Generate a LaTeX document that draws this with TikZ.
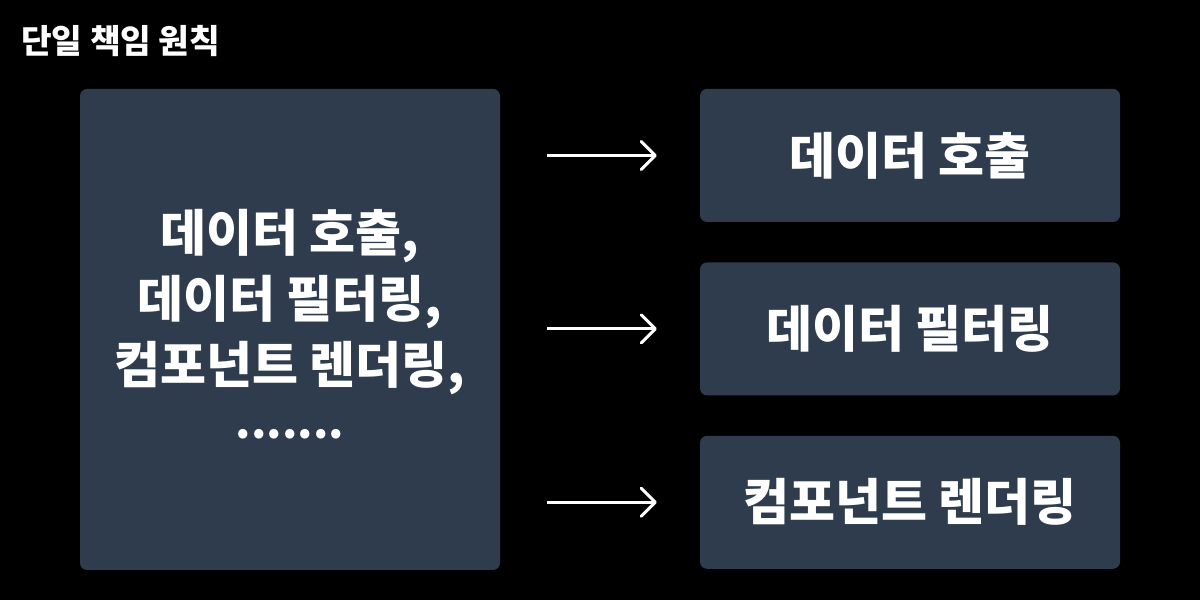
\documentclass[tikz,border=0pt]{standalone}
\usepackage{fontspec}
\setmainfont{Noto Sans CJK KR}
\usepackage{xcolor}
\usepackage{tikz}
\usetikzlibrary{arrows.meta,positioning}
\definecolor{panelgray}{RGB}{47,60,77}

\begin{document}
\begin{tikzpicture}[x=1pt,y=1pt,
		panel/.style={fill=panelgray,rounded corners=7pt,minimum width=420pt,text=white,align=center,inner sep=0pt},
		arrowline/.style={-{Straight Barb[length=14pt,width=28pt,line cap=round,line join=round]},white,line width=3pt}]
		\fill[black] (0,0) rectangle (1200,600);
		\useasboundingbox (0,0) rectangle (1200,600);
		% title
		\node[anchor=west,text=white,font=\fontsize{33.3}{40}\selectfont\bfseries,inner sep=0pt] (title) at (21,559) {단일 책임 원칙};
		% left panel
		\node[panel,minimum height=481pt,font=\fontsize{50}{66}\selectfont\bfseries] (all) at (290,270.5) {데이터 호출,\\데이터 필터링,\\컴포넌트 렌더링,\\{\fontsize{44}{66}\selectfont\raisebox{0.25em}{.......}}};
		% right panels
		\node[panel,minimum height=133pt,font=\fontsize{50}{60}\selectfont\bfseries] (call) at (910,444.5) {데이터 호출};
		\node[panel,minimum height=133pt,font=\fontsize{50}{60}\selectfont\bfseries,below=40pt of call] (filter) {데이터 필터링};
		\node[panel,minimum height=133pt,font=\fontsize{50}{60}\selectfont\bfseries,below=40pt of filter] (render) {컴포넌트 렌더링};
		% arrows
		\draw[arrowline,shorten <=47pt,shorten >=43pt] (all.east |- call.west) -- (call.west);
		\draw[arrowline,shorten <=47pt,shorten >=43pt] (all.east |- filter.west) -- (filter.west);
		\draw[arrowline,shorten <=47pt,shorten >=43pt] (all.east |- render.west) -- (render.west);
	\end{tikzpicture}
\end{document}
